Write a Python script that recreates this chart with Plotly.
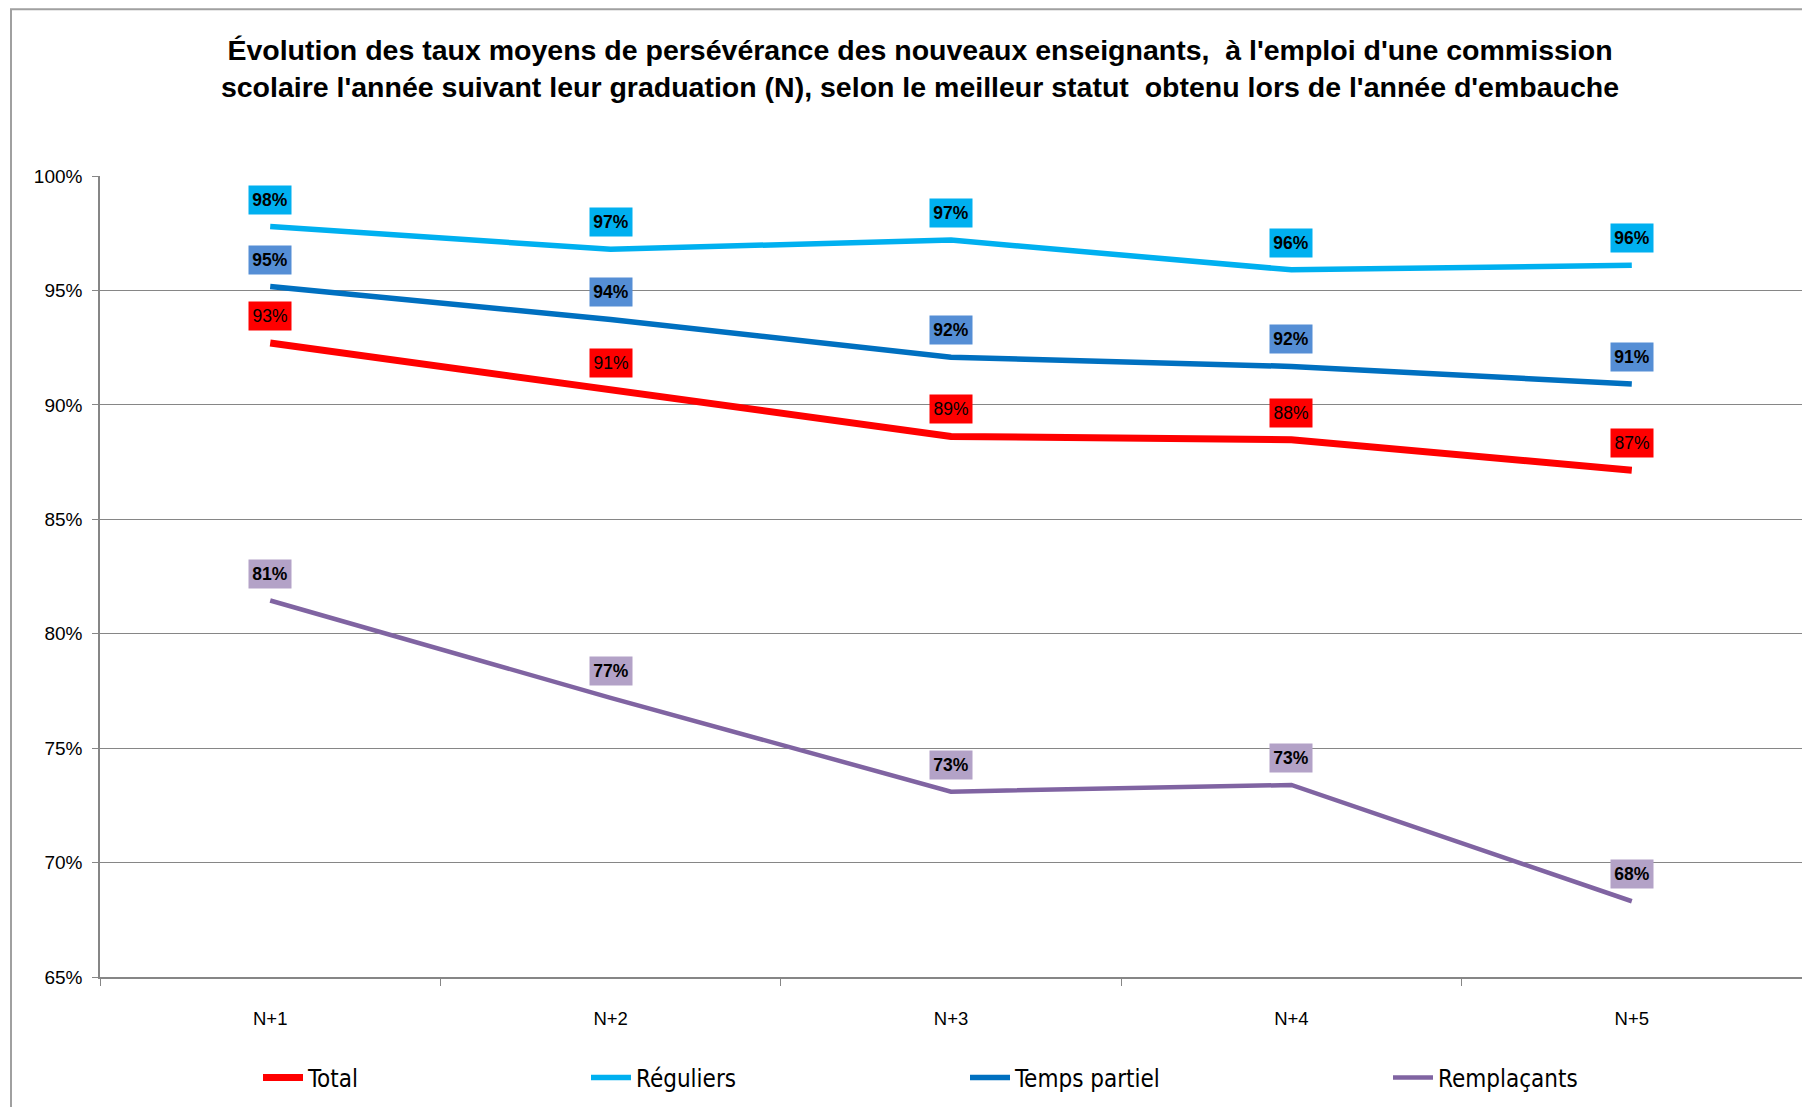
import plotly.graph_objects as go

categories = ["N+1", "N+2", "N+3", "N+4", "N+5"]
total = [92.7, 90.66, 88.62, 88.48, 87.14]
reguliers = [97.79, 96.8, 97.2, 95.9, 96.1]
temps_partiel = [95.17, 93.73, 92.08, 91.68, 90.91]
remplacants = [81.45, 77.2, 73.1, 73.39, 68.31]

series_names = ["Total", "Réguliers", "Temps partiel", "Remplaçants"]
series_values = [total, reguliers, temps_partiel, remplacants]
line_colors = ["#FF0000", "#00B0F0", "#0070C0", "#8064A2"]
label_bg = ["#FF0000", "#00B0F0", "#558ED5", "#B3A2C7"]
line_widths = [7, 5.5, 5.5, 4.5]
label_bold = [False, True, True, True]

y_ticks = [65, 70, 75, 80, 85, 90, 95, 100]
y_tick_labels = ["65%", "70%", "75%", "80%", "85%", "90%", "95%", "100%"]

# page body has an 8px margin; figure coordinates = screen - 8
OFF = 8
W, H = 1802, 1099
ML, MR, MT, MB = 100 - OFF, 8, 176 - OFF, 129
PW = W - ML - MR
PH = H - MT - MB


def px_to_paper_x(px):
    return (px - OFF - ML) / PW


def px_to_paper_y(py):
    return (H - MB - (py - OFF)) / PH


fig = go.Figure()
legend_ids = ["legend", "legend2", "legend3", "legend4"]
for name, vals, col, lw, lid in zip(series_names, series_values, line_colors, line_widths, legend_ids):
    fig.add_trace(go.Scatter(
        x=categories, y=vals, name=name, mode="lines",
        line=dict(color=col, width=lw),
        legend=lid, hoverinfo="skip", showlegend=True,
    ))

annotations = []
for vals, bg, bold in zip(series_values, label_bg, label_bold):
    for c, v in zip(categories, vals):
        annotations.append(dict(
            x=c, y=v, xref="x", yref="y",
            text=f"{round(v)}%", showarrow=False,
            yshift=27, bgcolor=bg, borderpad=0, width=42, height=28,
            font=dict(family="Liberation Sans, Arial", size=17.5, color="#000000",
                      weight="bold" if bold else "normal"),
        ))

legend_line_starts = [263, 591, 970, 1393]
legend_common = dict(orientation="h", yanchor="middle", xanchor="left",
                     font=dict(family="DejaVu Sans Condensed, DejaVu Sans", size=24, color="#000000"),
                     bgcolor="rgba(0,0,0,0)", borderwidth=0, itemwidth=40)
layout_legends = {}
for lid, sx in zip(legend_ids, legend_line_starts):
    layout_legends[lid] = dict(x=px_to_paper_x(sx - 5), y=px_to_paper_y(1078), **legend_common)

fig.update_layout(
    width=W, height=H,
    margin=dict(l=ML, r=MR, t=MT, b=MB),
    paper_bgcolor="#FFFFFF", plot_bgcolor="#FFFFFF",
    showlegend=True,
    title=dict(
        text="Évolution des taux moyens de persévérance des nouveaux enseignants,  à l'emploi d'une commission<br>"
             "scolaire l'année suivant leur graduation (N), selon le meilleur statut  obtenu lors de l'année d'embauche",
        x=(920 - OFF) / W, xanchor="center", xref="container",
        y=1 - 52 / H, yanchor="middle", yref="container",
        font=dict(family="Liberation Sans Narrow, Arial Narrow, Liberation Sans, Arial", size=28.5,
                  color="#000000", weight="bold"),
    ),
    xaxis=dict(
        type="category", categoryorder="array", categoryarray=categories,
        range=[-0.5, len(categories) - 0.5],
        showgrid=False, showline=True, linecolor="#868686", linewidth=1.5,
        ticks="outside", tickson="boundaries", ticklen=7, tickcolor="#868686",
        ticklabelstandoff=24,
        tickfont=dict(family="Liberation Sans, Arial", size=18.5, color="#000000"),
        zeroline=False, fixedrange=True,
    ),
    yaxis=dict(
        range=[65, 100], tickvals=y_ticks, ticktext=y_tick_labels,
        showgrid=True, gridcolor="#868686", gridwidth=1.3,
        showline=True, linecolor="#868686", linewidth=1.5,
        ticks="outside", ticklen=6, tickcolor="#868686",
        ticklabelstandoff=6,
        tickfont=dict(family="Liberation Sans, Arial", size=19, color="#000000"),
        zeroline=False, fixedrange=True,
    ),
    annotations=annotations,
    shapes=[dict(type="rect", xref="paper", yref="paper",
                 x0=px_to_paper_x(11), x1=px_to_paper_x(1850),
                 y0=px_to_paper_y(1150), y1=px_to_paper_y(9),
                 line=dict(color="#A0A0A0", width=2), layer="below")],
    **layout_legends,
)

fig.write_html("out.html")
